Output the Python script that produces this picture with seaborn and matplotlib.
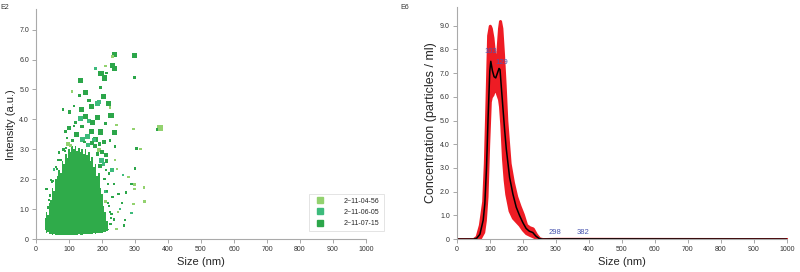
import numpy as np
import pandas as pd
import seaborn as sns
import matplotlib.pyplot as plt
from matplotlib.lines import Line2D

sns.set_style('white')
plt.rcParams['font.family'] = ['Liberation Sans', 'DejaVu Sans']

# ---------------- left panel: scatter data ----------------
samples = ['2~11-04-56', '2~11-06-05', '2~11-07-15']
colors = ['#93d26f', '#3dbb7c', '#2ca64a']

# dense core of the scatter, outline per size bin
core_x = [28, 32, 36, 40, 45, 50, 55, 60, 65, 70, 75, 80, 85, 90, 95, 100, 105, 110, 115, 120,
          125, 130, 135, 140, 145, 150, 155, 160, 165, 170, 175, 180, 185, 190, 195, 200, 205, 210,
          215, 220]
core_top = [0.7, 0.9, 0.8, 1.2, 1.3, 1.7, 1.6, 2.0, 2.1, 2.3, 2.2, 2.6, 2.5, 2.85, 2.7, 3.0, 2.9,
            3.1, 3.0, 3.1, 2.95, 3.05, 2.9, 3.0, 2.85, 3.0, 2.8, 2.9, 2.6, 2.75, 2.4, 2.5, 2.1, 2.2,
            1.7, 1.5, 1.1, 0.9, 0.6, 0.35]
core_bot = [0.3, 0.22, 0.25, 0.18, 0.17, 0.15, 0.16, 0.14, 0.15, 0.13, 0.14, 0.14, 0.13, 0.14,
            0.14, 0.15, 0.14, 0.15, 0.15, 0.14, 0.15, 0.16, 0.15, 0.15, 0.16, 0.17, 0.16, 0.17,
            0.18, 0.17, 0.19, 0.18, 0.2, 0.19, 0.21, 0.22, 0.24, 0.25, 0.28, 0.3]

# outlying points: x, y, sample index, size class (0 small, 1 medium, 2 big)
pts_x = [239, 232, 298, 233, 239, 180, 210, 197, 207, 214, 135, 299, 196, 151, 109, 132, 205, 161,
         190, 186, 220, 227, 224, 167, 81, 102, 115, 137, 227, 134, 151, 187, 160, 171, 211, 244, 116,
         139, 376, 367, 295, 167, 196, 239, 122, 94, 141, 155, 181, 105, 192, 207, 224, 240, 304, 317,
         190, 201, 198, 214, 239, 300, 245, 222, 264, 280, 237, 290, 298, 299, 327, 213, 272, 260, 296,
         329, 289, 236, 270, 266, 244, 229, 32, 46, 54, 68, 83, 97, 89, 100, 230, 212, 175, 120, 60,
         250, 255, 218, 226, 248, 70, 40,
         42, 52, 63, 76, 88, 99, 208, 215, 222, 228, 205, 218, 232, 212, 199, 186, 178, 225, 210,
         193, 170, 158, 147, 110, 91, 64, 48, 36]
pts_y = [6.17, 6.1, 6.14, 5.8, 5.7, 5.7, 5.78, 5.53, 5.38, 5.55, 5.3, 5.4, 5.07, 4.9, 4.93, 4.8, 4.77,
         4.63, 4.58, 4.52, 4.53, 4.14, 4.4, 4.44, 4.33, 4.25, 4.44, 4.33, 4.14, 4.03, 4.1, 4.05, 3.95,
         3.9, 3.86, 3.81, 3.77, 3.76, 3.71, 3.66, 3.68, 3.6, 3.58, 3.55, 3.5, 3.38, 3.34, 3.43, 3.32,
         3.13, 3.17, 3.25, 3.29, 3.1, 3.03, 3.02, 2.97, 2.9, 2.62, 2.6, 2.64, 2.36, 2.35, 2.19, 2.15,
         2.07, 1.84, 1.85, 1.82, 1.67, 1.73, 1.59, 1.56, 1.2, 1.18, 1.26, 0.87, 0.65, 0.64, 0.45, 0.33,
         0.83, 1.67, 1.98, 2.32, 2.65, 2.99, 3.18, 3.59, 3.71, 2.3, 2.8, 3.3, 3.9, 2.4, 1.5, 1.0, 1.2,
         0.5, 0.9, 2.9, 1.3,
         1.45, 1.95, 2.35, 2.65, 2.95, 3.2, 2.0, 1.6, 1.1, 0.7, 2.5, 1.85, 1.4, 2.3, 2.65, 2.85, 3.1,
         0.9, 1.25, 2.45, 3.2, 3.15, 3.25, 3.3, 3.05, 2.35, 1.9, 1.05]
pts_s = [2, 0, 2, 2, 2, 1, 0, 2, 2, 0, 2, 0, 0, 2, 0, 0, 2, 1, 1, 2, 2, 2, 0, 2, 0, 1, 0, 2, 2, 2, 2,
         2, 1, 2, 1, 0, 0, 1, 2, 0, 0, 2, 2, 2, 2, 0, 2, 2, 2, 1, 1, 1, 0, 0, 0, 0, 1, 1, 2, 1, 0, 0,
         0, 0, 0, 0, 0, 0, 0, 0, 0, 1, 0, 0, 0, 0, 0, 0, 0, 0, 0, 0, 0, 0, 0, 0, 0, 1, 0, 1, 1, 1, 1,
         1, 0, 0, 0, 0, 0, 0, 0, 0,
         0, 0, 0, 0, 0, 0, 0, 0, 0, 0, 1, 0, 0, 0, 1, 1, 1, 0, 0, 1, 1, 1, 0, 0, 0, 0, 0, 0]
pts_c = [2, 0, 2, 2, 2, 1, 0, 2, 2, 2, 2, 2, 2, 2, 0, 2, 2, 2, 1, 1, 2, 2, 0, 2, 2, 2, 2, 2, 2, 1, 2,
         2, 1, 2, 2, 0, 2, 2, 0, 2, 0, 2, 2, 2, 2, 2, 1, 1, 2, 0, 2, 2, 2, 2, 2, 0, 0, 2, 1, 2, 0, 2,
         0, 2, 1, 0, 2, 2, 0, 0, 0, 1, 2, 2, 0, 0, 1, 2, 2, 2, 0, 2, 2, 2, 1, 2, 2, 0, 2, 2, 1, 2, 1,
         2, 2, 2, 1, 2, 2, 0, 2, 2,
         2, 2, 1, 2, 2, 0, 2, 2, 2, 2, 1, 2, 2, 2, 1, 2, 2, 2, 0, 2, 2, 1, 2, 2, 2, 2, 2, 2]

# ---------------- right panel: size distribution ----------------
size_nm = [0, 50, 60, 70, 80, 85, 90, 95, 100, 103, 108, 113, 118, 123, 128, 131, 135, 140, 145, 150,
           160, 170, 180, 190, 200, 210, 220, 230, 240, 250, 260, 300, 400, 1000]
conc_mean = [0, 0, 0.03, 0.2, 0.8, 1.5, 3.0, 5.2, 7.1, 7.5, 7.1, 6.85, 6.8, 7.0, 7.2, 7.15, 6.4, 5.5,
             4.6, 3.8, 2.6, 1.9, 1.35, 1.0, 0.7, 0.45, 0.33, 0.28, 0.12, 0.02, 0, 0.01, 0.01, 0]
conc_upper = [0, 0, 0.1, 0.6, 1.6, 3.2, 5.8, 8.6, 9.0, 8.9, 8.5, 7.8, 7.4, 7.9, 8.9, 9.2, 8.9, 7.8, 6.5,
              5.0, 3.2, 2.4, 1.8, 1.4, 1.05, 0.6, 0.5, 0.45, 0.2, 0.03, 0, 0.01, 0.01, 0]
conc_lower = [0, 0, 0, 0.05, 0.3, 0.8, 1.8, 4.0, 5.8, 6.0, 6.1, 6.3, 6.3, 6.1, 5.9, 5.6, 4.8, 3.4, 2.5,
              1.9, 1.2, 0.9, 0.75, 0.6, 0.4, 0.25, 0.18, 0.12, 0.05, 0, 0, 0, 0, 0]
peak_labels = ['103', '129', '298', '382']
peak_pos = [(103, 7.75), (138, 7.3), (298, 0.12), (382, 0.12)]

fig = plt.figure(figsize=(8, 2.72), dpi=100)
ax1 = fig.add_axes([0.045, 0.121, 0.4125, 0.845])
ax2 = fig.add_axes([0.571, 0.121, 0.4125, 0.854])

# left
ax1.fill_between(core_x, core_bot, core_top, color='#2fab4a', linewidth=0, step='mid')
df = pd.DataFrame({'x': pts_x, 'y': pts_y,
                   'sample': [samples[i] for i in pts_c], 'sz': pts_s})
sns.scatterplot(ax=ax1, data=df, x='x', y='y', hue='sample', hue_order=samples,
                palette=colors, size='sz', sizes={0: 3, 1: 7, 2: 14}, marker='s',
                linewidth=0, legend=False)
ax1.set_xlim(0, 1000)
ax1.set_ylim(0, 7.68)
ax1.set_yticks([0, 1, 2, 3, 4, 5, 6, 7])
ax1.set_yticklabels(['0', '1.0', '2.0', '3.0', '4.0', '5.0', '6.0', '7.0'])
ax1.set_ylabel('Intensity (a.u.)', fontsize=8, labelpad=2)
handles = [Line2D([], [], marker='s', linestyle='', color=c, markersize=4) for c in colors]
leg = ax1.legend(handles, samples, loc='lower right', bbox_to_anchor=(0.484, 0.137),
                 bbox_transform=fig.transFigure, fontsize=5, frameon=True,
                 handletextpad=2.5, borderpad=0.6, labelspacing=0.6, fancybox=False)
leg.get_frame().set_edgecolor('#d8d8d8')
leg.get_frame().set_linewidth(0.6)
fig.text(0.0, 0.985, 'E2', fontsize=5, va='top', ha='left', color='#333333')

# right
ax2.fill_between(size_nm, conc_lower, conc_upper, color='#ee1c24', edgecolor='#ee1c24',
                 linewidth=2.2)
sns.lineplot(ax=ax2, x=size_nm, y=conc_mean, color='black', linewidth=1.1)
for lab, (px, py) in zip(peak_labels, peak_pos):
    ax2.text(px, py, lab, fontsize=5.5, color='#4a56b0', ha='center', va='bottom')
ax2.set_xlim(0, 1000)
ax2.set_ylim(0, 9.8)
ax2.set_yticks(range(10))
ax2.set_yticklabels(['0'] + ['%d.0' % i for i in range(1, 10)])
ax2.set_ylabel('Concentration (particles / ml)', fontsize=9, labelpad=2)
fig.text(0.5, 0.985, 'E6', fontsize=5, va='top', ha='left', color='#333333')

for ax in (ax1, ax2):
    ax.set_xticks(range(0, 1001, 100))
    ax.set_xlabel('Size (nm)', fontsize=8, labelpad=3)
    ax.tick_params(axis='both', labelsize=5, length=3, width=0.6, color='#999999',
                   labelcolor='#333333', pad=2, direction='out', bottom=True, left=True)
    for s in ['top', 'right']:
        ax.spines[s].set_visible(False)
    for s in ['left', 'bottom']:
        ax.spines[s].set_color('#aaaaaa')
        ax.spines[s].set_linewidth(0.8)

plt.savefig('out.png', dpi=100)
